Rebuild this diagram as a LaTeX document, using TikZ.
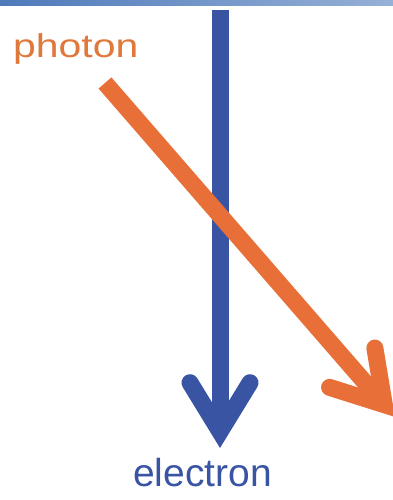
\documentclass[tikz,border=0pt]{standalone}
\usepackage{fontspec}
\setmainfont{Liberation Sans}
\usetikzlibrary{calc}
\definecolor{eblue}{RGB}{58,84,164}
\definecolor{porange}{RGB}{232,112,56}
\definecolor{ptext}{RGB}{224,120,60}
\definecolor{barL}{RGB}{78,122,186}
\definecolor{barR}{RGB}{150,176,214}
\begin{document}
\begin{tikzpicture}[x=1pt,y=-1pt,
  shaft/.style={line width=17pt,line cap=butt},
  head/.style={line width=17pt,line cap=round,line join=miter},
  lbl/.style={inner sep=0pt,anchor=base west}]
\useasboundingbox (0,0) rectangle (393,500);
\fill[white] (0,0) rectangle (393,500);
\shade[left color=barL,right color=barR] (0,0) rectangle (393,6);
% electron arrow
\coordinate (es) at (220,10);
\coordinate (et) at (220,448);
\coordinate (ev) at ($(et)!16.3pt!(es)$);
\coordinate (eb) at ($(ev)!49pt!(es)$);
\coordinate (el) at ($(eb)!30pt!90:(ev)$);
\coordinate (er) at ($(eb)!30pt!-90:(ev)$);
\draw[shaft,eblue] (es) -- (ev);
\draw[head,eblue] (el) -- (ev) -- (er);
% photon arrow
\coordinate (ps) at (105,83);
\coordinate (pt) at (395,417);
\coordinate (pv) at ($(pt)!16.3pt!(ps)$);
\coordinate (pb) at ($(pv)!49pt!(ps)$);
\coordinate (pl) at ($(pb)!30pt!90:(pv)$);
\coordinate (pr) at ($(pb)!30pt!-90:(pv)$);
\draw[shaft,porange] (ps) -- (pv);
\draw[head,porange] (pl) -- (pv) -- (pr);
% labels
\node[lbl,text=ptext,font=\fontsize{33}{33}\selectfont] (photon) at (13,58) {\scalebox{1.24}[1]{photon}};
\node[lbl,text=eblue,font=\fontsize{39}{39}\selectfont] (electron) at (133,486) {electron};
\end{tikzpicture}
\end{document}
